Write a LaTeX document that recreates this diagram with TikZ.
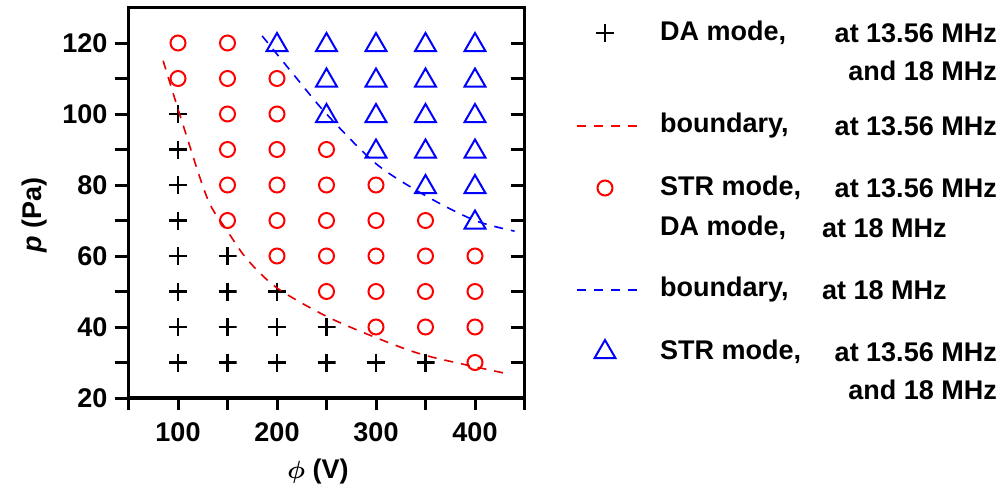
\documentclass[tikz,border=0pt]{standalone}
\usepackage{amsmath}
\usepackage{fontspec}
\setmainfont{Liberation Sans}
\usetikzlibrary{shapes.geometric}
\begin{document}
\begin{tikzpicture}[x=1pt,y=1pt,
  lbl/.style={font=\fontsize{27}{30}\selectfont\bfseries,inner sep=0pt},
  circ/.style={draw=red,line width=2pt,circle,minimum size=15pt,inner sep=0pt},
  plusm/.style={draw=none,inner sep=0pt,minimum size=18pt,
    path picture={\draw[line width=2.2pt,black] (path picture bounding box.west)--(path picture bounding box.east) (path picture bounding box.north)--(path picture bounding box.south);}},
  tri/.style={draw=blue,line width=2pt,regular polygon,regular polygon sides=3,minimum size=24pt,inner sep=0pt},
  bnd/.style={line width=1.6pt,dash pattern=on 9pt off 8pt}]
\useasboundingbox (0,0) rectangle (1004,-498);
\begin{scope}[shift={(79,-469)},x=0.99pt,y=3.55pt]
  \foreach \p in {20,30,...,120}{\draw[line width=3pt] (36,\p)--(50,\p); \draw[line width=3pt] (436,\p)--(450,\p);}
  \foreach \p in {20,40,...,120}{\node[lbl,anchor=east] (yl\p) at (29,\p) {\p};}
  \foreach \v in {50,100,...,450}{\draw[line width=3pt] (\v,20)--(\v,16.5);}
  \foreach \v in {100,200,300,400}{\node[lbl] (xl\v) at (\v,10.4) {\v};}
  \draw[line width=3.5pt] (50,20) rectangle (450,130);
  \foreach \v/\p in {100/30,100/40,100/50,100/60,100/70,100/80,100/90,100/100,150/30,150/40,150/50,150/60,200/30,200/40,200/50,250/30,250/40,300/30,350/30}
    \node[plusm] (pl\v-\p) at (\v,\p) {};
  \foreach \v/\p in {100/110,100/120,150/70,150/80,150/90,150/100,150/110,150/120,200/60,200/70,200/80,200/90,200/100,200/110,250/50,250/60,250/70,250/80,250/90,300/40,300/50,300/60,300/70,300/80,350/40,350/50,350/60,350/70,400/30,400/40,400/50,400/60}
    \node[circ] (c\v-\p) at (\v,\p) {};
  \foreach \v/\p in {200/120,250/100,250/110,250/120,300/90,300/100,300/110,300/120,350/80,350/90,350/100,350/110,350/120,400/70,400/80,400/90,400/100,400/110,400/120}
    \node[tri,yshift=-2pt] (t\v-\p) at (\v,\p) {};
  \draw[bnd,red!90!black] plot[smooth] coordinates {(85,115) (105,97) (130,76) (150,67) (170,59) (200,51) (250,43) (300,37) (350,32) (430,27)};
  \draw[bnd,blue] plot[smooth] coordinates {(185,122) (220,110) (250,100) (300,86) (350,77) (400,70) (440,67)};
\end{scope}
\node[lbl,rotate=90] (ylab) at (35,-215) {\itshape p\upshape\ (Pa)};
\node[lbl] (xlab) at (318,-472) {$\boldsymbol{\phi}$ (V)};
\node[plusm] (lg1) at (605,-33) {};
\node[lbl,anchor=west] (a1) at (660,-33) {DA mode,};
\node[lbl,anchor=east] (b1) at (997,-33) {at 13.56 MHz};
\node[lbl,anchor=east] (b1b) at (997,-71) {and 18 MHz};
\coordinate (l2a) at (577,-126); \coordinate (l2b) at (640,-126);
\draw[bnd,red] (l2a)--(l2b);
\node[lbl,anchor=west] (a2) at (660,-126) {boundary,};
\node[lbl,anchor=east] (b2) at (997,-126) {at 13.56 MHz};
\node[circ] (lg3) at (605,-188) {};
\node[lbl,anchor=west] (a3) at (660,-188) {STR mode,};
\node[lbl,anchor=east] (b3) at (997,-188) {at 13.56 MHz};
\node[lbl,anchor=west] (a3b) at (660,-228) {DA mode,};
\node[lbl,anchor=west] (b3b) at (822,-228) {at 18 MHz};
\coordinate (l4a) at (577,-290); \coordinate (l4b) at (640,-290);
\draw[bnd,blue] (l4a)--(l4b);
\node[lbl,anchor=west] (a4) at (660,-290) {boundary,};
\node[lbl,anchor=west] (b4) at (822,-290) {at 18 MHz};
\node[tri] (lg5) at (605,-352) {};
\node[lbl,anchor=west] (a5) at (660,-352) {STR mode,};
\node[lbl,anchor=east] (b5) at (997,-352) {at 13.56 MHz};
\node[lbl,anchor=east] (b5b) at (997,-390) {and 18 MHz};
\end{tikzpicture}
\end{document}
